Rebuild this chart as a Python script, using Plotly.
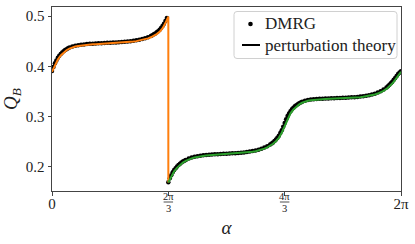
import numpy as np
import plotly.graph_objects as go

# perturbation theory, branch 1: alpha in [0, 2pi/3], step pi/60
pt_orange = [0.389, 0.403, 0.4135, 0.4215, 0.4275, 0.432, 0.4353, 0.4377, 0.4394, 0.4406,
             0.4415, 0.4422, 0.4428, 0.4433, 0.4437, 0.4441, 0.4444, 0.4447, 0.445, 0.4453,
             0.4456, 0.4459, 0.4462, 0.4466, 0.447, 0.4475, 0.448, 0.4486, 0.4493, 0.4501,
             0.4511, 0.4523, 0.4538, 0.4556, 0.4578, 0.4605, 0.464, 0.4685, 0.4755, 0.486,
             0.499]
pt_orange_drop = 0.169
# perturbation theory, branch 2: alpha in [2pi/3, 2pi], step pi/60
pt_green = [0.169, 0.181, 0.191, 0.198, 0.204, 0.2085, 0.212, 0.2148, 0.217, 0.2187,
            0.2200, 0.2210, 0.2218, 0.2224, 0.2229, 0.2233, 0.2237, 0.2240, 0.2243, 0.2246,
            0.2249, 0.2252, 0.2256, 0.2260, 0.2264, 0.2269, 0.2275, 0.2282, 0.2290, 0.2300,
            0.2312, 0.2326, 0.2343, 0.2363, 0.2388, 0.2420, 0.2460, 0.2510, 0.2578, 0.2680,
            0.2820, 0.2960, 0.3065, 0.3140, 0.3198, 0.3242, 0.3275, 0.3299, 0.3315, 0.3326,
            0.3334, 0.3339, 0.3343, 0.3346, 0.3349, 0.3351, 0.3353, 0.3355, 0.3357, 0.3359,
            0.3362, 0.3365, 0.3368, 0.3372, 0.3376, 0.3381, 0.3387, 0.3394, 0.3402, 0.3412,
            0.3424, 0.3439, 0.3458, 0.3482, 0.3512, 0.3550, 0.3598, 0.3658, 0.3730, 0.3810,
            0.3890]
# DMRG, branch 1: alpha = 0 .. 39*pi/60
dmrg_1 = [0.3905, 0.406, 0.417, 0.4245, 0.4302, 0.4342, 0.4372, 0.4394, 0.4410, 0.4421,
          0.4429, 0.4436, 0.4442, 0.4447, 0.4451, 0.4455, 0.4458, 0.4461, 0.4464, 0.4467,
          0.4470, 0.4473, 0.4476, 0.4480, 0.4484, 0.4489, 0.4495, 0.4501, 0.4509, 0.4518,
          0.4529, 0.4542, 0.4559, 0.4580, 0.4605, 0.4636, 0.4676, 0.4728, 0.4800, 0.4900]
# DMRG, branch 2: alpha = 2pi/3 .. 2pi
dmrg_2 = [0.1695, 0.1835, 0.1938, 0.2008, 0.2064, 0.2106, 0.2139, 0.2165, 0.2185, 0.2201,
          0.2213, 0.2223, 0.2231, 0.2237, 0.2242, 0.2246, 0.2250, 0.2253, 0.2256, 0.2259,
          0.2262, 0.2265, 0.2269, 0.2273, 0.2277, 0.2282, 0.2288, 0.2295, 0.2304, 0.2315,
          0.2328, 0.2343, 0.2361, 0.2383, 0.2410, 0.2444, 0.2487, 0.2542, 0.2620, 0.2730,
          0.2875, 0.3010, 0.3108, 0.3176, 0.3228, 0.3266, 0.3294, 0.3314, 0.3328, 0.3338,
          0.3345, 0.3350, 0.3354, 0.3357, 0.3360, 0.3362, 0.3364, 0.3366, 0.3368, 0.3370,
          0.3373, 0.3376, 0.3379, 0.3383, 0.3387, 0.3392, 0.3398, 0.3406, 0.3415, 0.3426,
          0.3439, 0.3456, 0.3477, 0.3504, 0.3538, 0.3580, 0.3632, 0.3695, 0.3770, 0.3848,
          0.3900]
# extra DMRG points (denser sampling on the steep parts), index in units of pi/60
dmrg_extra_idx = [0.5, 1.5, 2.5, 3.5, 4.5, 5.5,
                  34.5, 35.5, 36.5, 37.5, 38.5, 39.5,
                  40.5, 41.5, 42.5, 43.5, 44.5, 45.5,
                  75.5, 76.5, 77.5, 78.5, 79.5,
                  80.5, 81.5, 82.5, 83.5, 84.5, 85.5,
                  115.5, 116.5, 117.5, 118.5, 119.5]
dmrg_extra = [0.3988, 0.4118, 0.4212, 0.4276, 0.4323, 0.4358,
              0.4619, 0.4655, 0.4700, 0.4762, 0.4847, 0.4960,
              0.1772, 0.1891, 0.1975, 0.2037, 0.2086, 0.2123,
              0.2464, 0.2513, 0.2578, 0.2672, 0.2800,
              0.2946, 0.3063, 0.3144, 0.3204, 0.3248, 0.3281,
              0.3605, 0.3662, 0.3731, 0.3809, 0.3876]

x_tickvals = [0, 2 * np.pi]
x_ticktext = ["0", "2π"]
frac_pos = [2 * np.pi / 3, 4 * np.pi / 3]
frac_num = ["2π", "4π"]
frac_den = ["3", "3"]
y_tickvals = [0.2, 0.3, 0.4, 0.5]
y_ticktext = ["0.2", "0.3", "0.4", "0.5"]
legend_names = ["DMRG", "perturbation theory"]

step = np.pi / 60
a1 = np.arange(len(pt_orange)) * step
a2 = 2 * np.pi / 3 + np.arange(len(pt_green)) * step
d1 = np.arange(len(dmrg_1)) * step
d2 = 2 * np.pi / 3 + np.arange(len(dmrg_2)) * step
dx = np.array(dmrg_extra_idx) * step

FONT = "Liberation Serif"
TXT = "#222"
fig = go.Figure()
fig.add_trace(go.Scatter(x=np.concatenate([d1, d2, dx]), y=dmrg_1 + dmrg_2 + dmrg_extra,
                         mode="markers", name=legend_names[0],
                         marker=dict(color="black", size=4.5), showlegend=False))
fig.add_trace(go.Scatter(x=list(a1) + [2 * np.pi / 3], y=pt_orange + [pt_orange_drop], mode="lines",
                         name=legend_names[1], line=dict(color="#ff7f0e", width=2), showlegend=False))
fig.add_trace(go.Scatter(x=a2, y=pt_green, mode="lines", name=legend_names[1],
                         line=dict(color="#2ca02c", width=2), showlegend=False))

# plot area in pixels: left 52, right 401, top 7, bottom 191
L, R, TOP, BOT = 52, 401, 7, 191
W, H = float(R - L), float(BOT - TOP)
def px(p):
    return (p - L) / W
def py(p):
    return 1 - (p - TOP) / H

# fraction tick labels
for xv, num, den in zip(frac_pos, frac_num, frac_den):
    fig.add_annotation(x=xv, y=py(196.5), xref="x", yref="paper", text=num, showarrow=False,
                       font=dict(family=FONT, size=10.5, color=TXT), yanchor="middle", xanchor="center",
                       borderpad=0)
    fig.add_annotation(x=xv, y=py(208.5), xref="x", yref="paper", text=den, showarrow=False,
                       font=dict(family=FONT, size=10.5, color=TXT), yanchor="middle", xanchor="center",
                       borderpad=0)
    fig.add_shape(type="line", xref="x", yref="paper", x0=xv - 0.085, x1=xv + 0.085,
                  y0=py(202), y1=py(202), line=dict(color=TXT, width=0.8))

# legend box (rounded) with entries
bx0, bx1, by0, by1, rr = 234, 397, 11.5, 58.5, 3
rx, ry = rr / W, rr / H
X0, X1, Y0, Y1 = px(bx0), px(bx1), py(by1), py(by0)
path = (f"M {X0+rx},{Y1} L {X1-rx},{Y1} Q {X1},{Y1} {X1},{Y1-ry} L {X1},{Y0+ry} "
        f"Q {X1},{Y0} {X1-rx},{Y0} L {X0+rx},{Y0} Q {X0},{Y0} {X0},{Y0+ry} L {X0},{Y1-ry} "
        f"Q {X0},{Y1} {X0+rx},{Y1} Z")
fig.add_shape(type="path", xref="paper", yref="paper", path=path,
              line=dict(color="#d0d0d0", width=1), fillcolor="rgba(255,255,255,0.8)", layer="above")
fig.add_shape(type="circle", xref="paper", yref="paper", xsizemode="pixel", ysizemode="pixel",
              xanchor=px(250.5), yanchor=py(24), x0=-2.3, x1=2.3, y0=-2.3, y1=2.3,
              fillcolor="black", line=dict(width=0), layer="above")
fig.add_shape(type="line", xref="paper", yref="paper", x0=px(242), x1=px(260), y0=py(45), y1=py(45),
              line=dict(color="black", width=2), layer="above")
for name, yc in zip(legend_names, [24, 45]):
    fig.add_annotation(x=px(264), y=py(yc), xref="paper", yref="paper", text=name, showarrow=False,
                       xanchor="left", yanchor="middle", borderpad=0,
                       font=dict(family=FONT, size=17, color=TXT))

axis_common = dict(showline=True, linecolor="#444", linewidth=1, mirror=True, ticks="outside",
                   ticklen=3.5, tickcolor="#444", showgrid=False, zeroline=False, automargin=False,
                   tickfont=dict(family=FONT, size=15, color=TXT))
fig.update_layout(
    width=415, height=244, margin=dict(l=L, r=415 - R, t=TOP, b=244 - BOT),
    plot_bgcolor="white", paper_bgcolor="white", showlegend=False,
    xaxis=dict(range=[0, 2 * np.pi], tickvals=x_tickvals, ticktext=x_ticktext, ticklabelstandoff=-5,
               minor=dict(tickvals=frac_pos, ticks="outside", ticklen=3.5, tickcolor="#444",
                          showgrid=False),
               title=dict(text="<i>α</i>", font=dict(family=FONT, size=19, color=TXT), standoff=10),
               **axis_common),
    yaxis=dict(range=[0.152, 0.518], tickvals=y_tickvals, ticktext=y_ticktext,
               title=dict(text="<i>Q</i><sub><i>B</i></sub>", font=dict(family=FONT, size=19, color=TXT), standoff=8),
               **axis_common),
)
fig.write_html("out.html", config={"displayModeBar": False},
               post_script="document.body.style.margin='0';document.body.style.overflow='hidden';")
